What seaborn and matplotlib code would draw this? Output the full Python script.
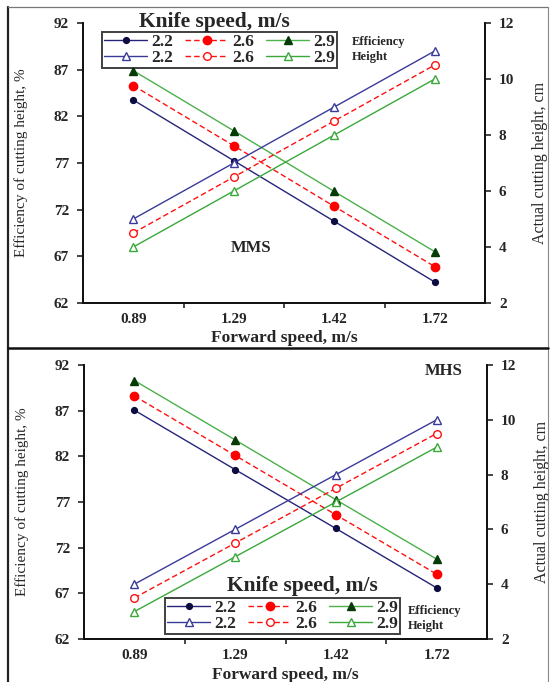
import matplotlib
matplotlib.use("Agg")
import matplotlib.pyplot as plt
from matplotlib.lines import Line2D
import pandas as pd
import seaborn as sns

# ---- data -------------------------------------------------------------
forward_speed = ["0.89", "1.29", "1.42", "1.72"]
knife_speed = ["2.2", "2.6", "2.9"]

# Motor mower system (MMS)
mms_eff_22 = [83.75, 77.25, 70.75, 64.25]
mms_eff_26 = [85.3, 78.85, 72.35, 65.9]
mms_eff_29 = [86.9, 80.45, 73.95, 67.5]
mms_hgt_22 = [5.0, 7.0, 9.0, 11.0]
mms_hgt_26 = [4.5, 6.5, 8.5, 10.5]
mms_hgt_29 = [4.0, 6.0, 8.0, 10.0]

# Mower header system (MHS)
mhs_eff_22 = [87.05, 80.55, 74.1, 67.6]
mhs_eff_26 = [88.6, 82.1, 75.6, 69.1]
mhs_eff_29 = [90.3, 83.8, 77.25, 70.75]
mhs_hgt_22 = [4.0, 6.0, 8.0, 10.0]
mhs_hgt_26 = [3.5, 5.5, 7.5, 9.5]
mhs_hgt_29 = [3.0, 5.0, 7.0, 9.0]

eff_ticks = [62, 67, 72, 77, 82, 87, 92]
hgt_ticks = [2, 4, 6, 8, 10, 12]


def long_frame(eff_lists, hgt_lists):
    rows = []
    for k, eff, hgt in zip(knife_speed, eff_lists, hgt_lists):
        for fs, e, h in zip(forward_speed, eff, hgt):
            rows.append({"forward": fs, "knife": k, "efficiency": e, "height": h})
    return pd.DataFrame(rows)


mms = long_frame([mms_eff_22, mms_eff_26, mms_eff_29],
                 [mms_hgt_22, mms_hgt_26, mms_hgt_29])
mhs = long_frame([mhs_eff_22, mhs_eff_26, mhs_eff_29],
                 [mhs_hgt_22, mhs_hgt_26, mhs_hgt_29])

# ---- styles -----------------------------------------------------------
sns.set_style("ticks")
plt.rcParams["font.family"] = ["Liberation Serif", "DejaVu Serif"]
plt.rcParams["font.weight"] = "bold"

line_color = {"2.2": "#25257a", "2.6": "#ff1010", "2.9": "#4cb04c"}
line_dash = {"2.2": "-", "2.6": (0, (4, 2.2)), "2.9": "-"}

eff_marker = {
    "2.2": dict(marker="o", markersize=4.2, markerfacecolor="#0c0c40", markeredgecolor="#0c0c40"),
    "2.6": dict(marker="o", markersize=6.0, markerfacecolor="#ff0000", markeredgecolor="#ff0000"),
    "2.9": dict(marker="^", markersize=5.5, markerfacecolor="#063a06", markeredgecolor="#063a06"),
}
hgt_marker = {
    "2.2": dict(marker="^", markersize=5.5, markerfacecolor="white", markeredgecolor="#3a3a9a"),
    "2.6": dict(marker="o", markersize=5.5, markerfacecolor="white", markeredgecolor="#ff1010"),
    "2.9": dict(marker="^", markersize=5.5, markerfacecolor="white", markeredgecolor="#3aa83a"),
}

W, H = 550, 682
fig = plt.figure(figsize=(W / 100, H / 100), dpi=100)


def px_box(left, top, right, bottom):
    return [left / W, 1 - bottom / H, (right - left) / W, (bottom - top) / H]


def draw_panel(rect, df, label_y, legend_anchor, legend_loc, title_xy, tag, tag_xy, side_xy):
    ax = fig.add_axes(rect)
    eff_lines = []
    for k in knife_speed:
        sub = df[df["knife"] == k]
        sns.lineplot(data=sub, x="forward", y="efficiency", ax=ax, errorbar=None,
                     color=line_color[k], linestyle=line_dash[k], linewidth=1.0,
                     markeredgewidth=1.0, **eff_marker[k])
        eff_lines.append(ax.lines[-1])

    ax2 = ax.twinx()
    hgt_lines = []
    for k in knife_speed:
        sub = df[df["knife"] == k]
        sns.lineplot(data=sub, x="forward", y="height", ax=ax2, errorbar=None,
                     color=hgt_marker[k]["markeredgecolor"], linestyle=line_dash[k],
                     linewidth=1.0, markeredgewidth=1.0, **hgt_marker[k])
        hgt_lines.append(ax2.lines[-1])

    ax.set_xlim(-0.5, 3.5)
    ax.set_ylim(62, 92)
    ax2.set_ylim(2, 12)
    ax.set_yticks(eff_ticks)
    ax2.set_yticks(hgt_ticks)
    ax.set_xticks(range(len(forward_speed)))
    ax.set_xticklabels(forward_speed)
    ax.set_xticks([0.5, 1.5, 2.5], minor=True)

    for a in (ax, ax2):
        a.spines["top"].set_visible(False)
        for s in a.spines.values():
            s.set_linewidth(1.3)
            s.set_color("#111111")
        a.grid(False)

    ax.tick_params(axis="x", which="major", length=0, pad=7.5, labelsize=11)
    ax.tick_params(axis="x", which="minor", length=3.5, width=1.2, direction="out")
    ax.tick_params(axis="y", length=4, width=1.2, direction="out", pad=6, labelsize=11)
    ax2.tick_params(axis="y", length=4, width=1.2, direction="out", pad=6, labelsize=11)

    ax.set_xlabel("Forward speed, m/s", fontsize=12.5, fontweight="bold")
    ax.xaxis.set_label_coords(0.5, label_y)
    ax.set_ylabel("Efficiency of cutting height, %", fontsize=11, fontweight="normal")
    ax.yaxis.set_label_coords(-0.137, 0.5)
    ax2.set_ylabel("Actual cutting height, cm", fontsize=11.5, fontweight="normal")
    ax2.yaxis.set_label_coords(1.117, 0.5)

    handles, labels = [], []
    for k, le, lh in zip(knife_speed, eff_lines, hgt_lines):
        handles += [le, lh]
        labels += [k, k]
    leg = ax2.legend(handles, labels, ncol=3, loc=legend_loc, bbox_to_anchor=legend_anchor,
                     prop={"size": 12.5, "weight": "bold"}, frameon=True, fancybox=False,
                     handlelength=2.5, handletextpad=0.2, columnspacing=0.7,
                     labelspacing=0.0, borderpad=0.12, borderaxespad=0.0)
    leg.get_frame().set_edgecolor("#111111")
    leg.get_frame().set_linewidth(1.4)

    fig.text(title_xy[0] / W, 1 - title_xy[1] / H, "Knife speed, m/s",
             ha="center", va="center", fontsize=15.5, fontweight="bold")
    fig.text(side_xy[0] / W, 1 - side_xy[1] / H, "Efficiency",
             ha="left", va="center", fontsize=9, fontweight="bold")
    fig.text(side_xy[0] / W, 1 - (side_xy[1] + 15) / H, "Height",
             ha="left", va="center", fontsize=9, fontweight="bold")
    fig.text(tag_xy[0] / W, 1 - tag_xy[1] / H, tag,
             ha="center", va="center", fontsize=12, fontweight="bold")
    return ax, ax2


# top panel (MMS)
draw_panel(px_box(83, 23, 485, 303), mms, label_y=-0.098,
           legend_anchor=(19 / 402, 1 - 9 / 280), legend_loc="upper left",
           title_xy=(214, 22), tag="MMS", tag_xy=(251, 248), side_xy=(352, 42))

# bottom panel (MHS)
draw_panel(px_box(84, 365, 487, 639), mhs, label_y=-0.104,
           legend_anchor=(81 / 403, 5 / 274), legend_loc="lower left",
           title_xy=(302, 586), tag="MHS", tag_xy=(444, 371), side_xy=(408, 611))

# panel frames
fig.add_artist(Line2D([8 / W, 8 / W], [0, 1 - 7 / H], transform=fig.transFigure,
                      color="#222222", linewidth=1.6))
fig.add_artist(Line2D([8 / W, 548 / W], [1 - 7 / H, 1 - 7 / H], transform=fig.transFigure,
                      color="#777777", linewidth=0.9))
fig.add_artist(Line2D([548 / W, 548 / W], [0, 1 - 7 / H], transform=fig.transFigure,
                      color="#888888", linewidth=0.8))
fig.add_artist(Line2D([8 / W, 548 / W], [1 - 348 / H, 1 - 348 / H], transform=fig.transFigure,
                      color="#111111", linewidth=1.8))

fig.savefig("out.png", dpi=100)
